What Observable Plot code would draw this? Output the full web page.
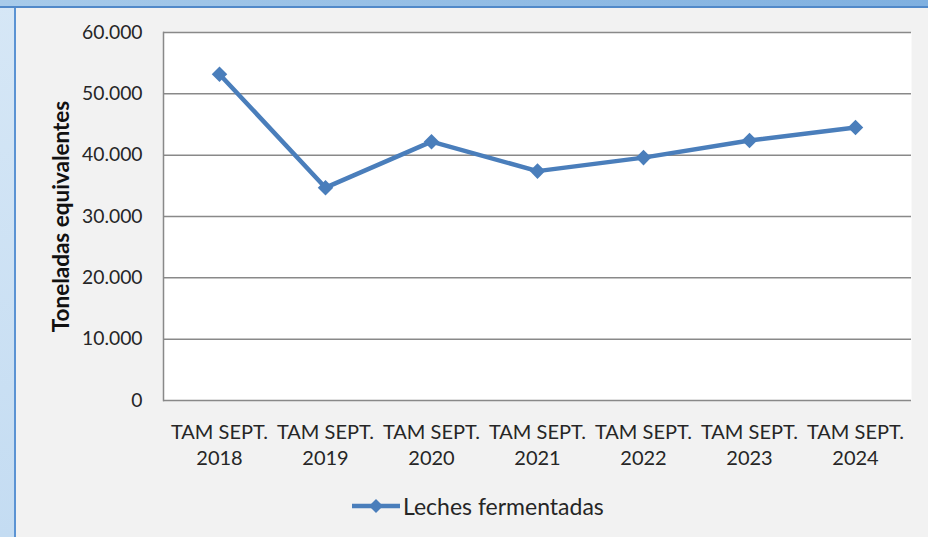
<!DOCTYPE html>
<html>
<head>
<meta charset="utf-8">
<script src="https://cdn.jsdelivr.net/npm/d3@7"></script>
<script src="https://cdn.jsdelivr.net/npm/@observablehq/plot@0.6"></script>
<style>
  html, body { margin: 0; padding: 0; }
  #wrap { position: relative; width: 928px; height: 537px; overflow: hidden;
    background: linear-gradient(180deg, #d6e7f6 0%, #c4dcf2 100%); font-family: Lato, "Open Sans", sans-serif; }
  #topband { position: absolute; left: 0; top: 0; width: 928px; height: 6px;
    background: linear-gradient(90deg, #a8cbea 0%, #7fb0e0 100%); border-bottom: 2px solid #5189c9; }
  #panel { position: absolute; left: 14px; top: 8px; width: 914px; height: 529px;
    background: #f2f2f2; border-left: 2px solid #5b93d3; }
  #chart { position: absolute; left: 0; top: 0; }
  #legend { position: absolute; left: 352px; top: 491px; height: 30px; display: flex; align-items: center;
    font-size: 23px; color: #262626; }
</style>
</head>
<body>
<div id="wrap">
  <div id="topband"></div>
  <div id="panel"></div>
  <div id="chart"></div>
  <div id="legend"></div>
</div>
<script>
const periods = ["TAM SEPT. 2018", "TAM SEPT. 2019", "TAM SEPT. 2020", "TAM SEPT. 2021", "TAM SEPT. 2022", "TAM SEPT. 2023", "TAM SEPT. 2024"];
const values = [53200, 34700, 42200, 37400, 39600, 42400, 44500];
const yTicks = [0, 10000, 20000, 30000, 40000, 50000, 60000];
const seriesName = "Leches fermentadas";
const yTitle = "Toneladas equivalentes";

const lineColor = "#4a7ebb";
const gridColor = "#898989";
const textColor = "#262626";

const data = periods.map((p, i) => ({period: p, value: values[i]}));
const es = d3.formatLocale({decimal: ",", thousands: ".", grouping: [3], currency: ["", " €"]});
const fmt = es.format(",");

const chart = Plot.plot({
  width: 928,
  height: 480,
  marginLeft: 163,
  marginRight: 17,
  marginTop: 32,
  marginBottom: 80,
  style: {background: "transparent", fontFamily: "Lato, 'Open Sans', sans-serif", color: textColor, overflow: "visible"},
  x: {type: "point", domain: periods, padding: 0.5, label: null},
  y: {domain: [0, 60000], label: null},
  marks: [
    Plot.frame({fill: "white", stroke: null}),
    Plot.ruleY(yTicks, {stroke: gridColor, strokeWidth: 1.5}),
    Plot.frame({anchor: "left", stroke: gridColor, strokeWidth: 1.5}),
    Plot.axisY({ticks: yTicks, tickSize: 0, tickPadding: 21, tickFormat: fmt, fontSize: 19.3, label: null, fill: textColor}),
    Plot.axisX({tickSize: 0, tickPadding: 20, fontSize: 20, lineHeight: 1.3, label: null, fill: textColor,
      tickFormat: d => d.replace(/ (\d{4})$/, "\n$1")}),
    Plot.text([yTitle], {frameAnchor: "left", textAnchor: "middle", lineAnchor: "middle", rotate: -90, dx: -102, fontSize: 22.5, fontWeight: "bold", fill: "#111"}),
    Plot.line(data, {x: "period", y: "value", stroke: lineColor, strokeWidth: 4.5, strokeLinejoin: "round"}),
    Plot.dot(data, {x: "period", y: "value", symbol: "diamond2", r: 7, fill: lineColor, stroke: null})
  ]
});
document.getElementById("chart").appendChild(chart);

const legend = document.getElementById("legend");
legend.innerHTML = `<svg width="50" height="20" style="margin-right:1px"><line x1="0" y1="10" x2="48" y2="10" stroke="${lineColor}" stroke-width="4.5"/><path d="M24,3 L31,10 L24,17 L17,10 Z" fill="${lineColor}"/></svg><span>${seriesName}</span>`;
</script>
</body>
</html>
